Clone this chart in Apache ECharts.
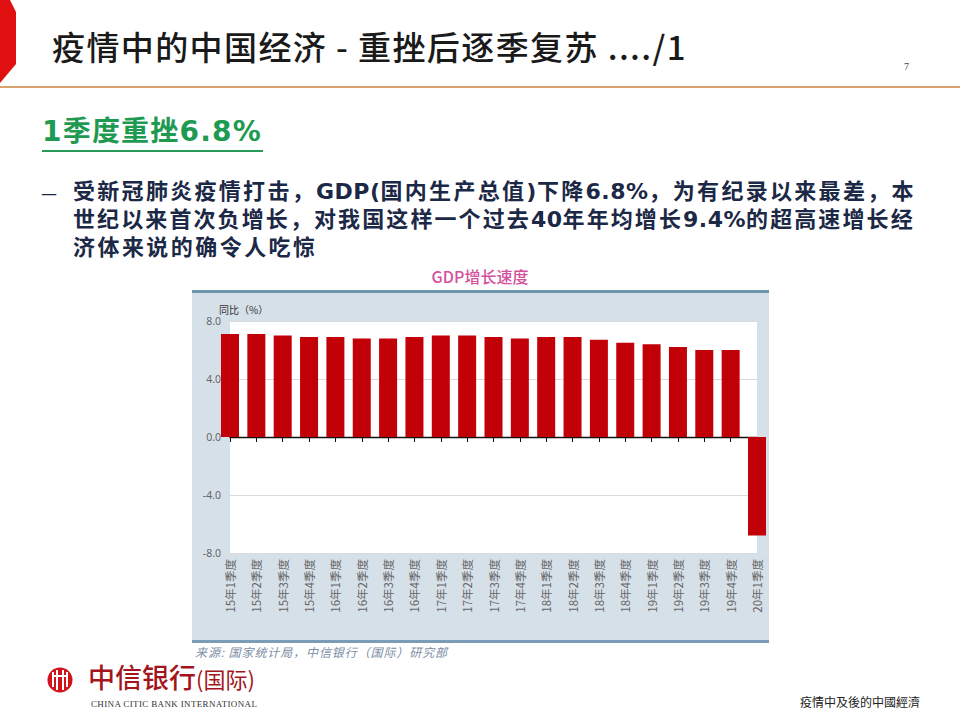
<!DOCTYPE html>
<html>
<head>
<meta charset="utf-8">
<script src="https://cdn.jsdelivr.net/npm/echarts@6/dist/echarts.min.js"></script>
<style>
  html, body { margin: 0; padding: 0; background: #fff; }
  body { width: 960px; height: 720px; position: relative; overflow: hidden; font-family: "Noto Sans CJK SC", sans-serif; }
  .abs { position: absolute; white-space: nowrap; }
  #title { left: 52px; top: 24px; font-size: 33px; line-height: 44px; color: #1a1a1a; letter-spacing: 1.4px; font-weight: 500; }
  #pageno { left: 904px; top: 60px; font-size: 10px; line-height: 14px; color: #444; font-family: "Liberation Serif", serif; }
  #rule { left: 0; top: 86px; width: 960px; height: 2px; background: #d7a26d; }
  #redtab { left: 0; top: 0; }
  #heading { left: 42px; top: 113px; font-size: 28px; line-height: 38px; color: #1f9a52; font-weight: bold; letter-spacing: 1.2px; font-family: "DejaVu Sans", "Noto Sans CJK SC", sans-serif; }
  #headline { left: 42px; top: 150px; width: 221px; height: 2px; background: #2a9a58; }
  .body { font-size: 22px; line-height: 28px; color: #1b2846; font-weight: bold; font-family: "DejaVu Sans", "Noto Sans CJK SC", sans-serif; letter-spacing: 2.45px; }
  .lat { letter-spacing: 0.5px; }
  #dash { left: 41px; top: 178px; font-weight: normal; letter-spacing: 0; font-family: "Noto Sans CJK SC", sans-serif; font-size: 18px; }
  #l1 { left: 73px; top: 178px; letter-spacing: 2.3px; }
  #l2 { left: 73px; top: 206px; letter-spacing: 2.1px; }
  #l3 { left: 73px; top: 234px; }
  #l1 .lat, #l2 .lat { letter-spacing: 0.5px; }
  #ctitle { left: 0; width: 960px; text-align: center; top: 266px; font-size: 16px; line-height: 20px; color: #d4509c; font-weight: 500; }
  #chart { position: absolute; left: 192px; top: 289px; width: 577px; height: 355px; }
  #source { left: 195px; top: 643px; font-size: 12px; line-height: 18px; color: #7d8ea6; font-style: italic; letter-spacing: 0.9px; }
  #logo { left: 46px; top: 666px; }
  #bank { left: 88px; top: 660px; font-size: 27px; line-height: 34px; color: #a3141c; font-weight: 500; letter-spacing: 0px; }
  #bankintl { font-size: 22px; font-weight: normal; }
  #banken { left: 91px; top: 698px; font-size: 9px; line-height: 12px; color: #333; font-family: "Liberation Serif", serif; letter-spacing: 0.35px; }
  #footer { left: 800px; top: 693px; font-size: 12px; line-height: 18px; color: #222; }
</style>
</head>
<body>
<svg class="abs" id="redtab" width="20" height="90"><polygon points="0,0 10,0 16,12 16,64 0,83" fill="#e01010"/></svg>
<div class="abs" id="title">疫情中的中国经济 - 重挫后逐季复苏 ..../1</div>
<div class="abs" id="pageno">7</div>
<div class="abs" id="rule"></div>
<div class="abs" id="heading">1季度重挫6.8%</div>
<div class="abs" id="headline"></div>
<div class="abs body" id="dash">—</div>
<div class="abs body" id="l1">受新冠肺炎疫情打击，<span class="lat">GDP(</span>国内生产总值<span class="lat">)</span>下降<span class="lat">6.8%</span>，为有纪录以来最差，本</div>
<div class="abs body" id="l2">世纪以来首次负增长，对我国这样一个过去<span class="lat">40</span>年年均增长<span class="lat">9.4%</span>的超高速增长经</div>
<div class="abs body" id="l3">济体来说的确令人吃惊</div>
<div class="abs" id="ctitle">GDP增长速度</div>
<div id="chart"></div>
<div class="abs" id="source">来源: 国家统计局，中信银行（国际）研究部</div>
<svg class="abs" id="logo" width="30" height="30">
  <circle cx="14" cy="14" r="12.5" fill="#d0121b"/>
  <rect x="6" y="6" width="2" height="15" fill="#fff"/>
  <rect x="10" y="4" width="2" height="20" fill="#fff"/>
  <rect x="16" y="4" width="2" height="20" fill="#fff"/>
  <rect x="20" y="6" width="2" height="15" fill="#fff"/>
  <rect x="8" y="9" width="12" height="2" fill="#fff"/>
</svg>
<div class="abs" id="bank">中信银行<span id="bankintl">(国际)</span></div>
<div class="abs" id="banken">CHINA CITIC BANK INTERNATIONAL</div>
<div class="abs" id="footer">疫情中及後的中國經濟</div>
<script>
const categories = ['15年1季度','15年2季度','15年3季度','15年4季度','16年1季度','16年2季度','16年3季度','16年4季度','17年1季度','17年2季度','17年3季度','17年4季度','18年1季度','18年2季度','18年3季度','18年4季度','19年1季度','19年2季度','19年3季度','19年4季度','20年1季度'];
const gdpGrowth = [7.1,7.1,7.0,6.9,6.9,6.8,6.8,6.9,7.0,7.0,6.9,6.8,6.9,6.9,6.7,6.5,6.4,6.2,6.0,6.0,-6.8];
const yMin = -8, yMax = 8, yStep = 4;
const yUnitLabel = '同比（%）';

const chart = echarts.init(document.getElementById('chart'), null, { renderer: 'svg' });
chart.setOption({
  animation: false,
  textStyle: { fontFamily: 'Noto Sans CJK SC' },
  graphic: [
    { type: 'rect', z: -10, shape: { x: 0, y: 2, width: 577, height: 350 }, style: { fill: '#d6e0e9' } },
    { type: 'rect', z: -9, shape: { x: 0, y: 1, width: 577, height: 3 }, style: { fill: '#6f97ab' } },
    { type: 'rect', z: -9, shape: { x: 0, y: 351, width: 577, height: 3 }, style: { fill: '#7b9bb8' } },
    { type: 'text', left: 27, top: 15, z: 10, style: { text: yUnitLabel, fontSize: 10, fill: '#333', fontFamily: 'Noto Sans CJK SC' } }
  ],
  grid: { left: 38, top: 32, width: 527, height: 232, show: true, backgroundColor: '#ffffff', borderWidth: 0 },
  xAxis: [
    {
      type: 'category', data: categories, boundaryGap: false, position: 'bottom',
      axisLine: { show: false, onZero: false }, axisTick: { show: false },
      axisLabel: { rotate: 90, interval: 0, color: '#666', fontSize: 11.5, margin: 6, fontFamily: 'Noto Sans CJK SC' },
      splitLine: { show: false }
    },
    {
      type: 'category', data: categories, boundaryGap: false, position: 'bottom',
      axisLine: { show: true, onZero: true, lineStyle: { color: '#111', width: 1.3 } },
      axisTick: { show: true, length: 5, interval: 0, lineStyle: { color: '#111', width: 1 } },
      axisLabel: { show: false }, splitLine: { show: false }
    }
  ],
  yAxis: {
    type: 'value', min: yMin, max: yMax, interval: yStep,
    axisLine: { show: false }, axisTick: { show: false },
    axisLabel: { formatter: v => v.toFixed(1), color: '#666', fontSize: 10.5, margin: 9, fontFamily: 'Noto Sans' },
    splitLine: { lineStyle: { color: '#dadada', width: 1 } }
  },
  series: [{
    type: 'bar', data: gdpGrowth, xAxisIndex: 0, barWidth: 18,
    itemStyle: { color: '#c20008' }, clip: true
  }]
});
</script>
</body>
</html>
